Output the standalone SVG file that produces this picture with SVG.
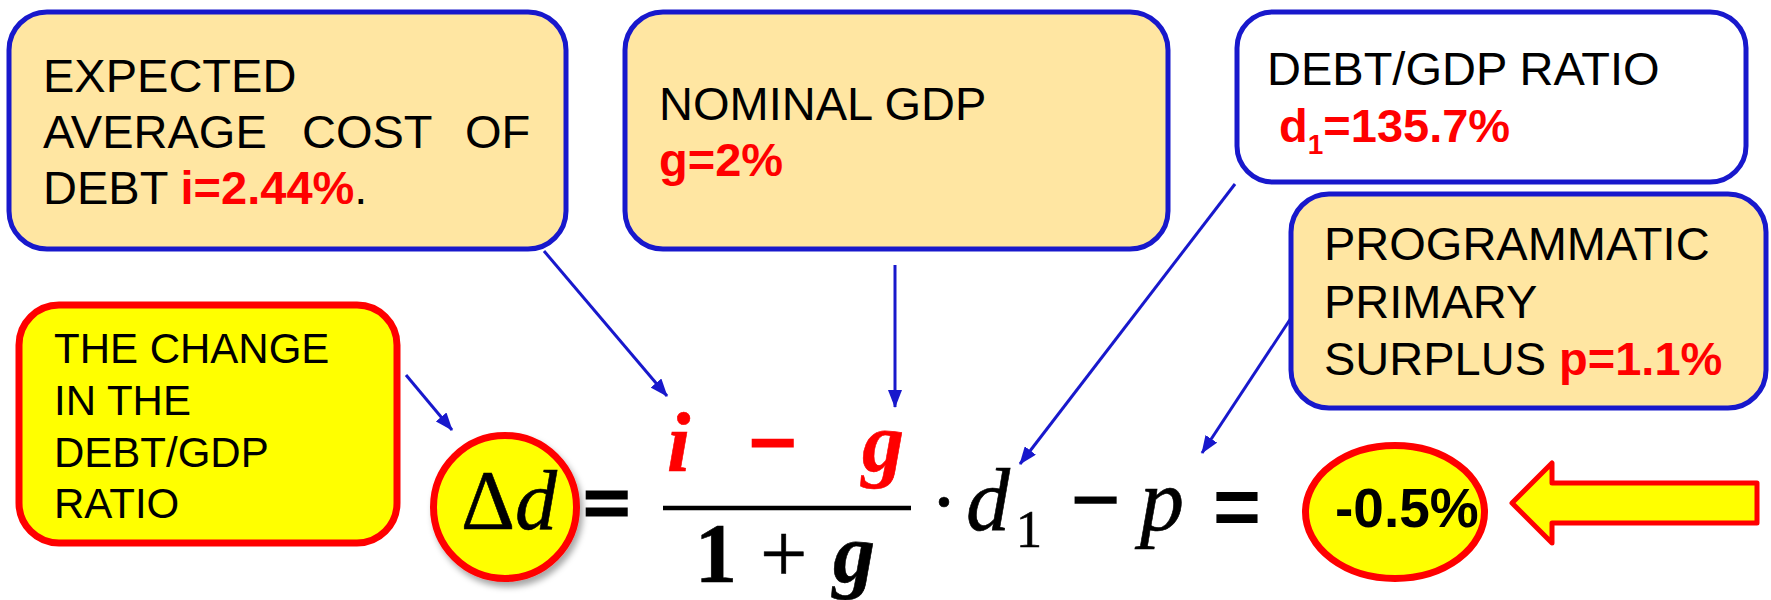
<svg xmlns="http://www.w3.org/2000/svg" width="1771" height="600" viewBox="0 0 1771 600">
<defs>
<style>
.box{stroke:#1818cc;stroke-width:5}
.peach{fill:#FFE6A2}
.lbl{font-family:"Liberation Sans",Arial,sans-serif;font-size:47px;fill:#000}
.small{font-size:42px}
.red{fill:#FF0000;font-weight:bold}
.conn{stroke:#1818cc;stroke-width:3;fill:none;marker-end:url(#ah)}
.math{font-family:"Liberation Serif","Times New Roman",serif;font-size:84px;fill:#000;stroke:#000;stroke-width:0.6}
.mred{fill:#FF0000;stroke:#FF0000}
.thick{stroke-width:3}
.ylw{fill:#FFFF00;stroke:#FF0000;stroke-width:7}
</style>
<marker id="ah" markerUnits="userSpaceOnUse" markerWidth="18" markerHeight="14" refX="17" refY="7" orient="auto">
<path d="M0,0 L18,7 L0,14 z" fill="#1818cc"/>
</marker>
<filter id="sh" x="-20%" y="-20%" width="150%" height="150%">
<feDropShadow dx="3" dy="5" stdDeviation="3" flood-color="#000" flood-opacity="0.35"/>
</filter>
</defs>

<g id="connectors">
<line class="conn" x1="544" y1="251" x2="667" y2="396"/>
<line class="conn" x1="895" y1="265" x2="895" y2="407"/>
<line class="conn" x1="1235" y1="184" x2="1020" y2="464"/>
<line class="conn" x1="1291" y1="318" x2="1202" y2="453"/>
<line class="conn" x1="406" y1="375" x2="452" y2="430"/>
</g>

<g id="node-cost">
<rect class="box peach" x="9" y="12" width="557" height="237" rx="38"/>
<text class="lbl" x="43" y="92">EXPECTED</text>
<text class="lbl" y="148"><tspan x="43">AVERAGE</tspan><tspan x="302">COST</tspan><tspan x="465">OF</tspan></text>
<text class="lbl" x="43" y="204">DEBT <tspan class="red">i=2.44%</tspan>.</text>
</g>

<g id="node-gdp">
<rect class="box peach" x="625" y="12" width="543" height="237" rx="38"/>
<text class="lbl" x="659" y="120">NOMINAL GDP</text>
<text class="lbl red" x="659" y="176">g=2%</text>
</g>

<g id="node-ratio">
<rect class="box" fill="#FFFFFF" x="1237" y="12" width="509" height="170" rx="36"/>
<text class="lbl" x="1267" y="85">DEBT/GDP RATIO</text>
<text class="lbl red" x="1279" y="142">d<tspan font-size="28" dy="12">1</tspan><tspan dy="-12">=135.7%</tspan></text>
</g>

<g id="node-surplus">
<rect class="box peach" x="1291" y="194" width="475" height="214" rx="38"/>
<text class="lbl" x="1324" y="260">PROGRAMMATIC</text>
<text class="lbl" x="1324" y="318">PRIMARY</text>
<text class="lbl" x="1324" y="375">SURPLUS <tspan class="red">p=1.1%</tspan></text>
</g>

<g id="node-change">
<rect class="ylw" x="19" y="305" width="378" height="238" rx="40"/>
<text class="lbl small" x="54" y="363">THE CHANGE</text>
<text class="lbl small" x="54" y="415">IN THE</text>
<text class="lbl small" x="54" y="467">DEBT/GDP</text>
<text class="lbl small" x="54" y="518">RATIO</text>
</g>

<g id="node-delta">
<ellipse class="ylw" cx="505" cy="507" rx="71.5" ry="71.5" filter="url(#sh)"/>
<text class="math" x="461" y="529">Δ<tspan font-style="italic">d</tspan></text>
</g>

<g id="formula">
<text class="math thick" x="583" y="532" font-weight="bold">=</text>
<text class="math mred" y="471" font-weight="bold" font-style="italic"><tspan x="667">i</tspan><tspan x="749" font-style="normal" class="thick">−</tspan><tspan x="862">g</tspan></text>
<line x1="663" y1="508" x2="911" y2="508" stroke="#000" stroke-width="4.5"/>
<text class="math" y="582"><tspan x="695" font-weight="bold">1</tspan><tspan x="760">+</tspan><tspan x="833" font-weight="bold" font-style="italic">g</tspan></text>
<text class="math" y="530"><tspan x="930">·</tspan><tspan x="966" font-style="italic" font-size="88">d</tspan><tspan x="1016" y="547" font-size="52">1</tspan><tspan x="1072" y="528" class="thick">−</tspan><tspan x="1140" y="530" font-style="italic" font-size="88">p</tspan></text>
<text x="1213" y="535" font-family="'Liberation Sans',Arial,sans-serif" font-size="82" font-weight="bold">=</text>
</g>

<g id="node-result">
<ellipse class="ylw" cx="1395" cy="512" rx="89.5" ry="66.5"/>
<text x="1335" y="527" font-family="'Liberation Sans',Arial,sans-serif" font-size="55" font-weight="bold">-0.5%</text>
</g>

<g id="big-arrow">
<polygon points="1512,503 1552,463 1552,483 1757,483 1757,523 1552,523 1552,543" fill="#FFFF00" stroke="#FF0000" stroke-width="5" stroke-linejoin="round"/>
</g>
</svg>
